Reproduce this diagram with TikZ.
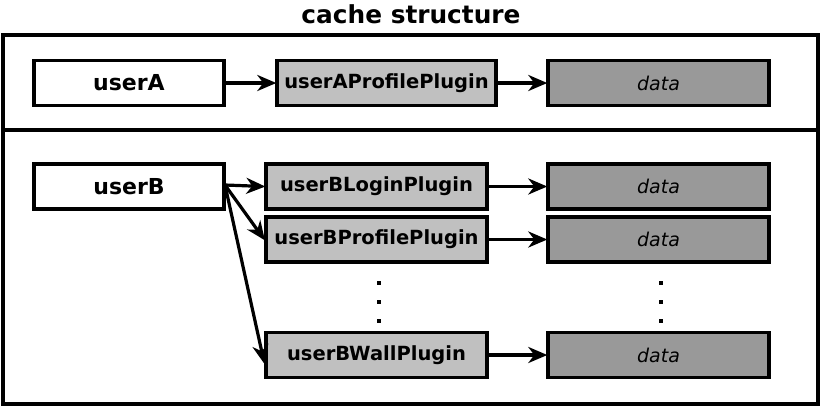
\documentclass[tikz,border=0pt]{standalone}
\usepackage{fontspec}
\setmainfont{DejaVu Sans}
\usetikzlibrary{arrows.meta}
\definecolor{plugfill}{HTML}{C0C0C0}
\definecolor{datafill}{HTML}{999999}
\tikzset{
  box/.style={draw=black, line width=3.4pt, minimum height=45pt, inner sep=0pt},
  userbox/.style={box, fill=white, minimum width=190pt, font=\bfseries\fontsize{22}{26}\selectfont},
  plugbox/.style={box, fill=plugfill, minimum width=220pt, font=\bfseries\fontsize{19.5}{23}\selectfont},
  databox/.style={box, fill=datafill, minimum width=221pt, font=\itshape\fontsize{19}{23}\selectfont},
  conn/.style={-{Stealth[length=19pt,width=16pt,inset=6pt]}, line width=3.2pt, shorten >=-1pt},
  dot/.style={fill=black, inner sep=0pt, minimum size=3.2pt, shape=rectangle}
}
\begin{document}
\begin{tikzpicture}[x=1pt,y=-1pt]
\useasboundingbox (0,0) rectangle (822,408);
\node[font=\bfseries\fontsize{24.8}{28}\selectfont] (title) at (411,14) {cache structure};
\draw[line width=3.4pt] (3,35) rectangle (818,404);
\draw[line width=3.4pt] (3,130) -- (818,130);
% user A
\node[userbox] (ua) at (129,83) {userA};
\node[plugbox, minimum width=219pt] (uap) at (386.5,83) {userAProfilePlugin};
\node[databox] (uad) at (658.5,83) {data};
\draw[conn] (ua) -- (uap);
\draw[conn] (uap) -- (uad);
% user B
\node[userbox] (ub) at (129,186.5) {userB};
\node[plugbox, minimum width=221pt] (ubl) at (376.5,186.5) {userBLoginPlugin};
\node[plugbox, minimum width=221pt] (ubp) at (376.5,239.5) {userBProfilePlugin};
\node[plugbox, minimum width=221pt] (ubw) at (376.5,355) {userBWallPlugin};
\node[databox] (d1) at (658.5,186.5) {data};
\node[databox] (d2) at (658.5,239.5) {data};
\node[databox] (d3) at (658.5,355) {data};
\coordinate (ubo) at (225,185);
\draw[conn] (ubo) -- (ubl.west);
\draw[conn] (ubo) -- (ubp.west);
\draw[conn] (ubo) -- ([yshift=-8pt]ubw.west);
\draw[conn] (ubl) -- (d1);
\draw[conn] (ubp) -- (d2);
\draw[conn] (ubw) -- (d3);
% dots
\foreach \y [count=\i] in {283,302,321} {
  \node[dot] (pd\i) at (379,\y) {};
  \node[dot] (dd\i) at (661,\y) {};
}
\end{tikzpicture}
\end{document}
